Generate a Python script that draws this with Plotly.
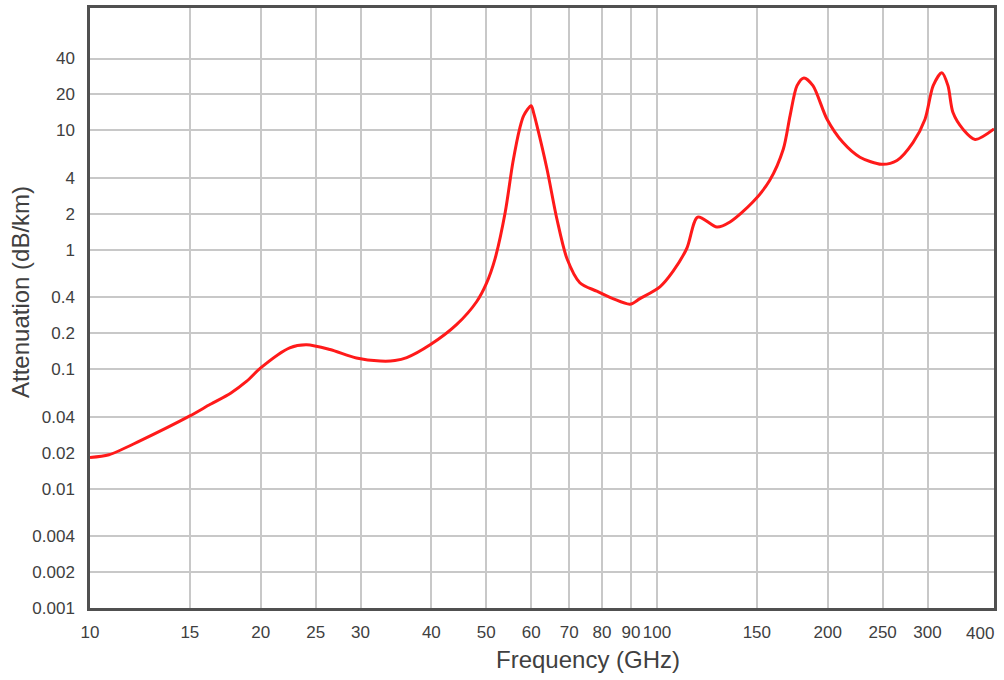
import numpy as np
import plotly.graph_objects as go

# Frequency (GHz) and attenuation (dB/km)
freq_ghz = [10, 10.8, 12.25, 15, 16.3, 17.7, 18.9, 20, 22.5, 24.1, 26.5, 29.5, 32.5,
            34.5, 36.2, 39.8, 44.3, 48.1, 50, 51.8, 54, 55.7, 57.3, 58.2, 60, 60.6,
            61.4, 64, 66.6, 69.4, 73.1, 78.3, 83.6, 89.6, 93.3, 101.2, 106.7, 112.9,
            118, 127.6, 134.5, 147.6, 158, 167, 171.7, 176.6, 181.6, 188.4, 199.5,
            212.9, 228, 249, 265, 282.8, 297, 307, 318, 326, 332.7, 346.7, 364, 393]
atten_db_km = [0.0182, 0.0192, 0.0251, 0.0406, 0.0508, 0.063, 0.0794, 0.1026, 0.151,
               0.16, 0.146, 0.124, 0.117, 0.118, 0.125, 0.16, 0.236, 0.369, 0.52,
               0.84, 2.07, 5.4, 10.5, 13.3, 16.1, 14.0, 11, 4.7, 1.81, 0.84, 0.53,
               0.45, 0.39, 0.35, 0.39, 0.49, 0.66, 1.03, 1.88, 1.55, 1.71, 2.51, 3.8,
               6.95, 13.3, 23.7, 27.5, 23.7, 12.4, 7.9, 5.96, 5.2, 5.6, 7.9, 12.4,
               23.7, 30.4, 23.7, 14.1, 10.2, 8.4, 10.3]

x_tickvals = [10, 15, 20, 25, 30, 40, 50, 60, 70, 80, 90, 100, 150, 200, 250, 300]
x_ticktext = ["10", "15", "20", "25", "30", "40", "50", "60", "70", "80", "90",
              "100", "150", "200", "250", "300"]
x_last_label = "400"
y_tickvals = [0.001, 0.002, 0.004, 0.01, 0.02, 0.04, 0.1, 0.2, 0.4, 1, 2, 4, 10, 20, 40]
y_ticktext = ["0.001", "0.002", "0.004", "0.01", "0.02", "0.04", "0.1", "0.2",
              "0.4", "1", "2", "4", "10", "20", "40"]

FONT = "Liberation Sans, Arial, sans-serif"
TXT = "#404040"
GRID = "#c8c8c8"
TICK_SIZE = 17
TITLE_SIZE = 24

fig = go.Figure()
fig.add_trace(go.Scatter(
    x=freq_ghz, y=atten_db_km, mode="lines",
    line=dict(color="#ff1a1a", width=3, shape="spline", smoothing=0.8),
    hoverinfo="x+y", showlegend=False,
))

fig.update_layout(
    width=1004, height=680,
    margin=dict(l=90, r=10, t=5, b=72),
    paper_bgcolor="white", plot_bgcolor="white",
    font=dict(family=FONT, color=TXT, size=TICK_SIZE),
    xaxis=dict(
        type="log", range=[1, np.log10(393)],
        tickvals=x_tickvals, ticktext=x_ticktext, tickangle=0,
        showgrid=True, gridcolor=GRID, gridwidth=2,
        showline=True, linecolor="#505050", linewidth=2.5, mirror=True,
        ticks="", ticklabelstandoff=7, zeroline=False,
        tickfont=dict(size=TICK_SIZE, color=TXT, family=FONT),
    ),
    yaxis=dict(
        type="log", range=[-3, 2.025],
        tickvals=y_tickvals, ticktext=y_ticktext,
        showgrid=True, gridcolor=GRID, gridwidth=2,
        showline=True, linecolor="#505050", linewidth=2.5, mirror=True,
        ticks="", ticklabelstandoff=9, zeroline=False,
        tickfont=dict(size=TICK_SIZE, color=TXT, family=FONT),
    ),
    annotations=[
        dict(text=x_last_label, xref="paper", yref="paper", x=1.0, y=0,
             xanchor="right", yanchor="top", yshift=-14, xshift=2, showarrow=False,
             font=dict(size=TICK_SIZE, color=TXT, family=FONT)),
        dict(text="Frequency (GHz)", xref="paper", yref="paper", x=0.5, y=0,
             xanchor="center", yanchor="top", xshift=46, yshift=-36, showarrow=False,
             font=dict(size=TITLE_SIZE, color=TXT, family=FONT)),
        dict(text="Attenuation (dB/km)", xref="paper", yref="paper", x=0, y=0.5,
             xanchor="center", yanchor="middle", xshift=-70, yshift=16, textangle=-90,
             showarrow=False, font=dict(size=TITLE_SIZE, color=TXT, family=FONT)),
    ],
)

fig.write_html("out.html")
